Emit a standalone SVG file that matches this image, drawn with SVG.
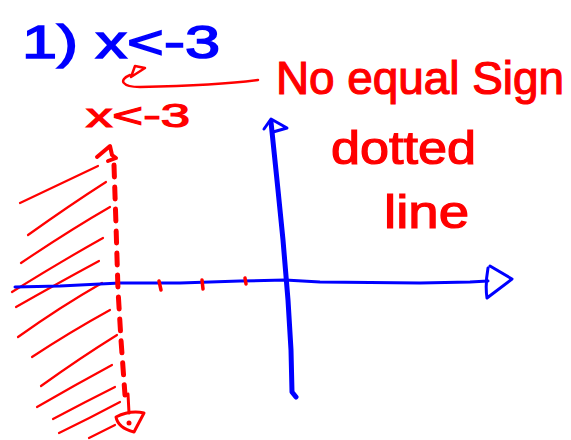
<svg xmlns="http://www.w3.org/2000/svg" width="571" height="440" viewBox="0 0 571 440">
<style>
.blue{fill:#0000ff;stroke:#0000ff;stroke-width:1.5;font-family:"Liberation Sans",Arial,sans-serif}
.red{fill:#ff0000;stroke:#ff0000;stroke-width:1.2;font-family:"Liberation Sans",Arial,sans-serif}
.bl{stroke:#0000ff;fill:none;stroke-linecap:round;stroke-linejoin:round}
.rl{stroke:#ff0000;fill:none;stroke-linecap:round;stroke-linejoin:round}
.hatch{stroke:#ff0000;stroke-width:2.2;fill:none;stroke-linecap:round}
</style>
<rect width="571" height="440" fill="#ffffff"/>
<!-- texts -->
<text class="blue" x="22" y="58" font-size="46" textLength="198" lengthAdjust="spacingAndGlyphs">1) x&lt;-3</text>
<text class="red" x="86" y="127" font-size="34" textLength="104" lengthAdjust="spacingAndGlyphs">x&lt;-3</text>
<text class="red" x="276" y="94" font-size="46" textLength="288" lengthAdjust="spacingAndGlyphs">No equal Sign</text>
<text class="red" x="331" y="164" font-size="46" textLength="145" lengthAdjust="spacingAndGlyphs">dotted</text>
<text class="red" x="384" y="228" font-size="46" textLength="85" lengthAdjust="spacingAndGlyphs">line</text>
<!-- red curved arrow under < -->
<path class="rl" stroke-width="2.5" d="M258,80 C230,84 190,86 140,87 C122,87 118,80 130,75"/>
<path class="rl" stroke-width="2.5" d="M131,77 L135,66 L145,68 Z"/>
<!-- hatching -->
<g id="hatching">
<path class="hatch" d="M20,203 L98,166"/>
<path class="hatch" d="M28,235 Q70,205 106,182"/>
<path class="hatch" d="M21,263 Q70,230 110,207"/>
<path class="hatch" d="M12,292 Q60,262 103,238"/>
<path class="hatch" d="M16,307 Q60,282 99,261"/>
<path class="hatch" d="M18,337 Q60,307 102,283"/>
<path class="hatch" d="M32,357 Q70,332 110,310"/>
<path class="hatch" d="M41,386 Q80,358 117,335"/>
<path class="hatch" d="M37,407 Q75,385 112,365"/>
<path class="hatch" d="M53,419 Q85,402 115,387"/>
<path class="hatch" d="M59,433 Q90,418 120,402"/>
<path class="hatch" d="M89,438 L115,425"/>
</g>
<!-- axes -->
<g id="x-axis">
<path class="bl" stroke-width="3" d="M15,287 L60,286 L120,283 L180,283 L240,281 L285,280 L320,282 L420,283 L470,282 L488,281"/>
<path class="bl" stroke-width="3" d="M488,268 Q485,285 487,298 L512,279 L490,266"/>
</g>
<g id="y-axis">
<path class="bl" stroke-width="5" d="M271,122 L278,190 L283,240 L288,300 L291,350 L292,392 L296,397"/>
<path class="bl" stroke-width="3" d="M264,129 L271,119 L287,128 L273,132"/>
</g>
<!-- ticks -->
<path class="rl" stroke-width="3.5" d="M159,281 L161,290 M202,280 L203,289 M245,278 L246,284"/>
<!-- dashed boundary -->
<g id="boundary">
<path class="rl" stroke-width="5" stroke-dasharray="12,10" d="M114,165 L116,225 L118,290 L121,340 L125,395"/>
<path class="rl" stroke-width="4" d="M97,157 L110,146 L112,155 L116,158 L108,161"/>
<path class="rl" stroke-width="3" d="M128,394 L129,413"/>
<path class="rl" stroke-width="3" d="M116,417 Q118,428 134,432 L144,413 Q130,410 116,417 Z"/>
<circle cx="129" cy="423" r="2.5" fill="#ff0000"/>
</g>
</svg>
